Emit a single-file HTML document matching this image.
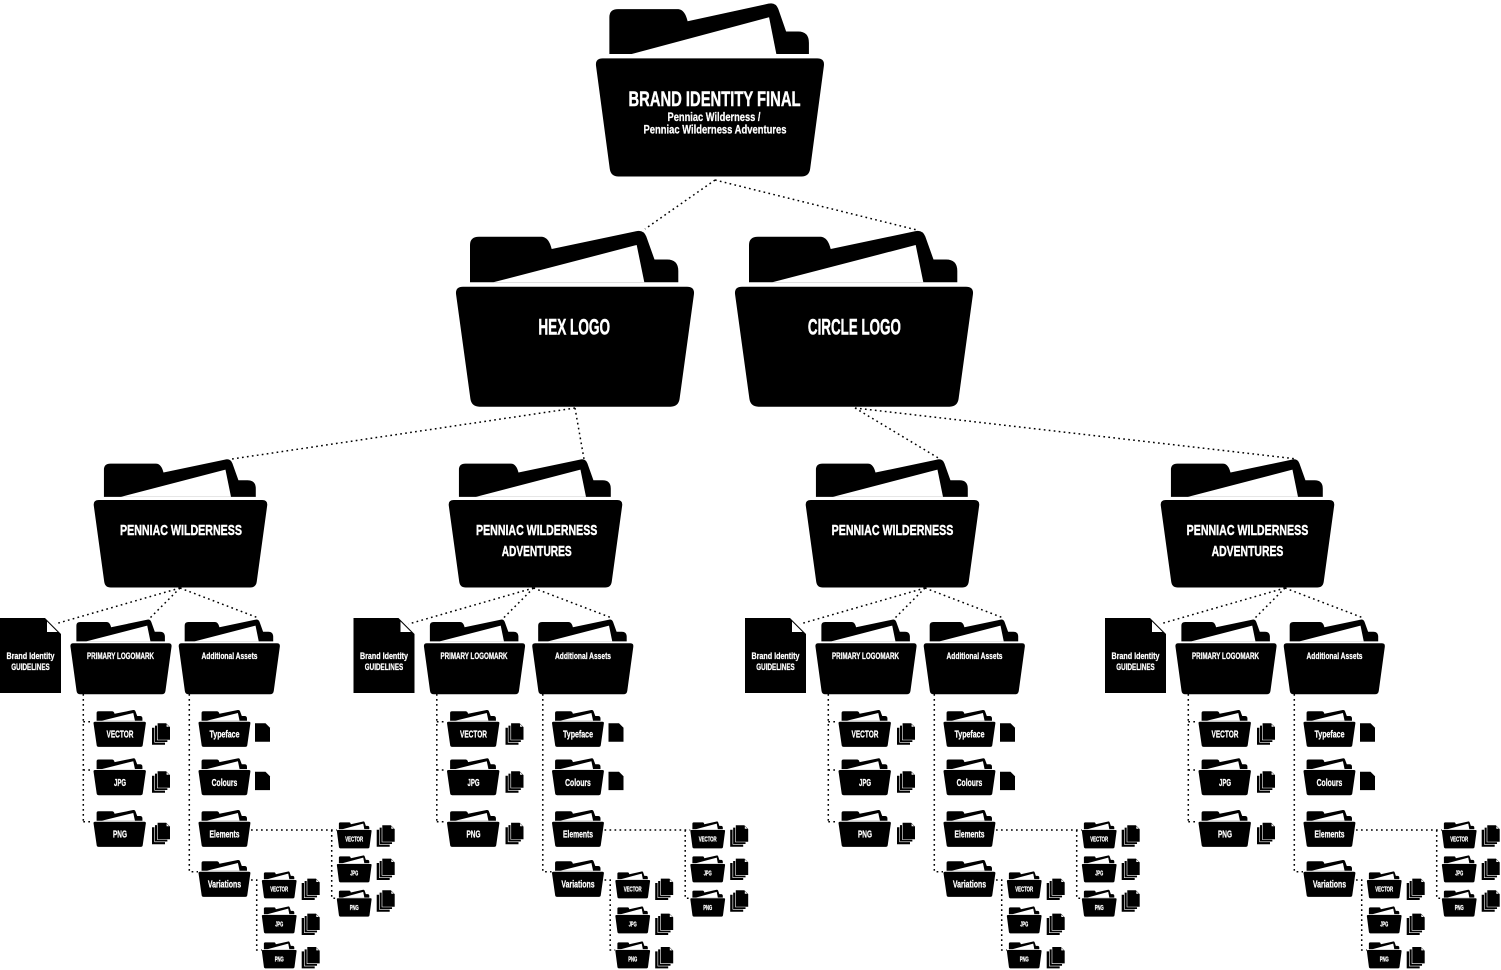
<!DOCTYPE html>
<html>
<head>
<meta charset="utf-8">
<style>
html,body{margin:0;padding:0;background:#fff;}
svg{display:block;}
.t{font-family:"Liberation Sans Narrow","Liberation Sans",Arial,sans-serif;font-weight:bold;fill:#fff;text-anchor:middle;stroke:#fff;stroke-width:0.45;}
.s{stroke-width:0.25;}
.c{fill:none;stroke:#000;stroke-width:1.5;stroke-dasharray:1.7 3.3;}
</style>
</head>
<body>
<svg width="1501" height="970" viewBox="0 0 1501 970" xmlns="http://www.w3.org/2000/svg" xmlns:xlink="http://www.w3.org/1999/xlink">
<defs>
  <g id="F">
    <path fill="#000" d="M15,52.3 L15,15 Q15,6.7 24,6.7 L86,6.7 C92,6.7 95,12 96.7,19 L181,1.2 Q188.5,-0.6 191.3,6.5 L199.5,29.5 L212,29.5 Q223.3,29.5 223.3,41 L223.3,52.3 Z"/>
    <path fill="#fff" d="M38.3,52.3 L181.7,15 L189.3,52.3 Z"/>
    <path fill="#000" d="M8,56.7 L232,56.7 Q240,56.7 238.9,64.6 L224.6,168.8 Q223.5,176.7 215.5,176.7 L24.5,176.7 Q16.5,176.7 15.4,168.8 L1.1,64.6 Q0,56.7 8,56.7 Z"/>
  </g>
  <g id="S" fill="#000">
    <path d="M0,4.7H9L13,8.7V21.7H0Z"/>
    <path stroke="#fff" stroke-width="0.6" d="M2.65,2.35H11.65L15.65,6.35V19.35H2.65Z"/>
    <path stroke="#fff" stroke-width="0.6" d="M5.3,0H14.3L18.3,4V17H5.3Z"/>
    <path fill="#fff" d="M14.6,1.2V3.7H17.1Z"/>
  </g>
  <g id="D">
    <path fill="#000" d="M0,0H10.5L15,4.5V18.4H0Z"/>
  </g>
  <g id="G">
    <path class="c" d="M180,588L55,624M180,588L150,618M180,588L258.5,618M83.3,694V821.7M83.3,721.7H93M83.3,770H93M83.3,821.7H93M189.3,694V871.7H198M251,830H336.7M331.7,830V898.3H336.7M251,880H256.7V950H261.7"/>
    <path fill="#000" d="M0,618H45L61,634V693H0Z"/>
    <path fill="#fff" d="M47,621.5V632H57.5Z"/>
    <use xlink:href="#F" href="#F" transform="translate(70,619.2) scale(0.425,0.425)"/>
    <use xlink:href="#F" href="#F" transform="translate(178.3,619.2) scale(0.425,0.425)"/>

    <use xlink:href="#F" href="#F" transform="translate(93.3,709.8) scale(0.22,0.21)"/>
    <use xlink:href="#F" href="#F" transform="translate(93.3,758.1) scale(0.22,0.21)"/>
    <use xlink:href="#F" href="#F" transform="translate(93.3,809.8) scale(0.22,0.21)"/>
    <use xlink:href="#F" href="#F" transform="translate(198.3,709.8) scale(0.218,0.21)"/>
    <use xlink:href="#F" href="#F" transform="translate(198.3,758.1) scale(0.218,0.21)"/>
    <use xlink:href="#F" href="#F" transform="translate(198.3,809.8) scale(0.218,0.21)"/>
    <use xlink:href="#F" href="#F" transform="translate(198.3,859.8) scale(0.218,0.21)"/>

    <use xlink:href="#S" href="#S" transform="translate(152,723)"/>
    <use xlink:href="#S" href="#S" transform="translate(152,771)"/>
    <use xlink:href="#S" href="#S" transform="translate(152,822.5)"/>
    <use xlink:href="#D" href="#D" transform="translate(255,723.3)"/>
    <use xlink:href="#D" href="#D" transform="translate(255,771.7)"/>

    <use xlink:href="#F" href="#F" transform="translate(336.7,821.3) scale(0.146,0.153)"/>
    <use xlink:href="#F" href="#F" transform="translate(336.7,855.3) scale(0.146,0.153)"/>
    <use xlink:href="#F" href="#F" transform="translate(336.7,889.6) scale(0.146,0.153)"/>
    <use xlink:href="#S" href="#S" transform="translate(376.7,825)"/>
    <use xlink:href="#S" href="#S" transform="translate(376.7,858.3)"/>
    <use xlink:href="#S" href="#S" transform="translate(376.7,890)"/>

    <use xlink:href="#F" href="#F" transform="translate(261.7,871.3) scale(0.146,0.153)"/>
    <use xlink:href="#F" href="#F" transform="translate(261.7,906.3) scale(0.146,0.153)"/>
    <use xlink:href="#F" href="#F" transform="translate(261.7,941.3) scale(0.146,0.153)"/>
    <use xlink:href="#S" href="#S" transform="translate(301.7,878.3)"/>
    <use xlink:href="#S" href="#S" transform="translate(301.7,913.3)"/>
    <use xlink:href="#S" href="#S" transform="translate(301.7,946.7)"/>

    <text class="t s" x="30.5" y="659" font-size="9.5" textLength="48" lengthAdjust="spacingAndGlyphs">Brand Identity</text>
    <text class="t s" x="30.5" y="670" font-size="9.5" textLength="38.5" lengthAdjust="spacingAndGlyphs">GUIDELINES</text>
    <text class="t s" x="120.5" y="659" font-size="9.5" textLength="67" lengthAdjust="spacingAndGlyphs">PRIMARY LOGOMARK</text>
    <text class="t s" x="229.5" y="659" font-size="9.5" textLength="56" lengthAdjust="spacingAndGlyphs">Additional Assets</text>

    <text class="t s" x="120" y="737.7" font-size="10" textLength="27" lengthAdjust="spacingAndGlyphs">VECTOR</text>
    <text class="t s" x="120" y="786" font-size="10" textLength="12" lengthAdjust="spacingAndGlyphs">JPG</text>
    <text class="t s" x="120" y="837.7" font-size="10" textLength="14" lengthAdjust="spacingAndGlyphs">PNG</text>
    <text class="t s" x="224.5" y="737.7" font-size="10" textLength="30" lengthAdjust="spacingAndGlyphs">Typeface</text>
    <text class="t s" x="224.5" y="786" font-size="10" textLength="25.7" lengthAdjust="spacingAndGlyphs">Colours</text>
    <text class="t s" x="224.5" y="837.7" font-size="10" textLength="30" lengthAdjust="spacingAndGlyphs">Elements</text>
    <text class="t s" x="224.5" y="887.7" font-size="10" textLength="33.3" lengthAdjust="spacingAndGlyphs">Variations</text>

    <text class="t s" x="354.2" y="841.7" font-size="7" textLength="18" lengthAdjust="spacingAndGlyphs">VECTOR</text>
    <text class="t s" x="354.2" y="875.7" font-size="7" textLength="8" lengthAdjust="spacingAndGlyphs">JPG</text>
    <text class="t s" x="354.2" y="910" font-size="7" textLength="9" lengthAdjust="spacingAndGlyphs">PNG</text>
    <text class="t s" x="279.2" y="891.7" font-size="7" textLength="18" lengthAdjust="spacingAndGlyphs">VECTOR</text>
    <text class="t s" x="279.2" y="926.7" font-size="7" textLength="8" lengthAdjust="spacingAndGlyphs">JPG</text>
    <text class="t s" x="279.2" y="961.7" font-size="7" textLength="9" lengthAdjust="spacingAndGlyphs">PNG</text>
  </g>
</defs>

<!-- top-level connectors -->
<path class="c" d="M715,180L645,229M715,180L917,230M575,408L232,459M575,408L584,459M855,408L940,459M855,408L1297,459"/>

<!-- top folder -->
<use xlink:href="#F" href="#F" transform="translate(595,2.5) scale(0.958,0.985)"/>
<text class="t" x="714.5" y="106" font-size="21" textLength="172" lengthAdjust="spacingAndGlyphs">BRAND IDENTITY FINAL</text>
<text class="t s" x="714" y="121" font-size="12" textLength="93" lengthAdjust="spacingAndGlyphs">Penniac Wilderness /</text>
<text class="t s" x="715" y="133.5" font-size="12" textLength="143" lengthAdjust="spacingAndGlyphs">Penniac Wilderness Adventures</text>

<!-- level 2 -->
<use xlink:href="#F" href="#F" transform="translate(455,230)"/>
<text class="t" x="574.2" y="334.3" font-size="22" textLength="71.7" lengthAdjust="spacingAndGlyphs">HEX LOGO</text>
<use xlink:href="#F" href="#F" transform="translate(734,230)"/>
<text class="t" x="854.4" y="334.3" font-size="22" textLength="93" lengthAdjust="spacingAndGlyphs">CIRCLE LOGO</text>

<!-- level 3 mid folders -->
<use xlink:href="#F" href="#F" transform="translate(93,458.7) scale(0.729)"/>
<text class="t" x="181" y="535" font-size="15" textLength="122" lengthAdjust="spacingAndGlyphs">PENNIAC WILDERNESS</text>
<use xlink:href="#F" href="#F" transform="translate(448,458.7) scale(0.729)"/>
<text class="t" x="536.7" y="535" font-size="15" textLength="121.3" lengthAdjust="spacingAndGlyphs">PENNIAC WILDERNESS</text>
<text class="t" x="536.7" y="556" font-size="15" textLength="70" lengthAdjust="spacingAndGlyphs">ADVENTURES</text>
<use xlink:href="#F" href="#F" transform="translate(805,458.7) scale(0.729)"/>
<text class="t" x="892.5" y="535" font-size="15" textLength="121.7" lengthAdjust="spacingAndGlyphs">PENNIAC WILDERNESS</text>
<use xlink:href="#F" href="#F" transform="translate(1160,458.7) scale(0.729)"/>
<text class="t" x="1247.5" y="535" font-size="15" textLength="121.7" lengthAdjust="spacingAndGlyphs">PENNIAC WILDERNESS</text>
<text class="t" x="1247.5" y="556" font-size="15" textLength="71.7" lengthAdjust="spacingAndGlyphs">ADVENTURES</text>

<!-- subtrees -->
<use xlink:href="#G" href="#G" transform="translate(0,0)"/>
<use xlink:href="#G" href="#G" transform="translate(353.5,0)"/>
<use xlink:href="#G" href="#G" transform="translate(745,0)"/>
<use xlink:href="#G" href="#G" transform="translate(1105,0)"/>
</svg>
</body>
</html>
